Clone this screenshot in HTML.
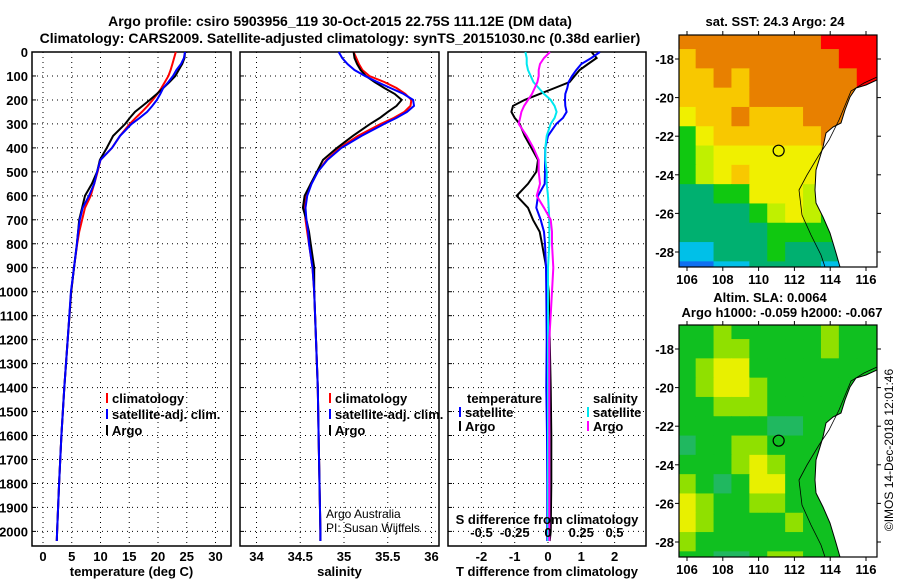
<!DOCTYPE html>
<html><head><meta charset="utf-8"><style>
body{margin:0;background:#fff;}
svg text{font-family:"Liberation Sans",Arial,sans-serif;}
.b{font-weight:bold;font-size:13px;}
.n{font-weight:normal;font-size:12px;}
</style></head><body>
<svg id="c" width="900" height="580" xmlns="http://www.w3.org/2000/svg">
<text x="340" y="26" class="b" text-anchor="middle" style="font-size:14px">Argo profile: csiro 5903956_119 30-Oct-2015 22.75S 111.12E (DM data)</text>
<text x="340" y="43" class="b" text-anchor="middle" style="font-size:14px">Climatology: CARS2009. Satellite-adjusted climatology: synTS_20151030.nc (0.38d earlier)</text>
<g id="g"></g>
</svg>
<script>
const depths=[0,25,50,75,100,125,150,175,200,225,250,275,300,350,400,450,500,550,600,650,700,750,800,900,1000,1200,1400,1600,1800,2000,2040];
const tArgo=[24.7,24.6,24.2,23.6,23.0,22.0,20.9,19.8,18.6,17.3,16.0,15.1,14.3,12.2,11.1,9.9,9.4,8.5,7.3,6.8,6.3,6.1,5.9,5.4,4.9,4.3,3.7,3.2,2.8,2.45,2.4];
const tClim=[23.1,22.8,22.5,22.2,21.8,21.2,20.6,19.9,19.1,18.2,17.2,16.1,15.1,13.4,12.0,10.0,9.5,8.9,8.3,7.3,6.8,6.3,5.95,5.4,4.9,4.3,3.7,3.2,2.8,2.45,2.4];
const tSat=[24.7,24.5,24.0,23.2,22.6,21.8,20.9,20.4,19.8,19.0,18.1,16.8,15.4,13.4,12.0,10.0,9.4,8.9,8.0,6.9,6.4,6.1,5.9,5.4,4.85,4.3,3.7,3.2,2.8,2.45,2.4];
const sArgo=[35.11,35.12,35.15,35.19,35.25,35.35,35.46,35.58,35.66,35.6,35.5,35.41,35.3,35.1,34.92,34.76,34.69,34.62,34.55,34.53,34.57,34.6,34.62,34.66,34.66,34.68,34.7,34.71,34.72,34.73,34.73];
const sClim=[35.11,35.14,35.17,35.21,35.29,35.46,35.6,35.7,35.77,35.76,35.69,35.57,35.42,35.16,34.95,34.8,34.7,34.62,34.57,34.55,34.56,34.58,34.6,34.64,34.66,34.68,34.7,34.71,34.72,34.73,34.73];
const sSat=[34.94,34.98,35.04,35.12,35.24,35.38,35.53,35.68,35.79,35.8,35.72,35.6,35.46,35.2,34.97,34.81,34.7,34.63,34.58,34.56,34.57,34.59,34.6,34.64,34.66,34.68,34.7,34.71,34.72,34.73,34.73];
const dtArgo=[1.31,1.46,1.2,0.95,0.8,0.65,0.2,-0.25,-0.7,-1.05,-1.1,-1.0,-0.85,-0.7,-0.5,-0.3,-0.35,-0.6,-0.94,-0.6,-0.45,-0.25,-0.18,-0.05,0.02,0.05,0.08,0.1,0.1,0.08,0.05];
const dtSat=[1.56,1.3,1.0,0.85,0.72,0.62,0.58,0.52,0.51,0.52,0.56,0.45,0.25,0.0,-0.08,-0.09,-0.09,-0.1,-0.3,-0.35,-0.22,-0.12,-0.09,-0.06,-0.05,-0.04,-0.05,-0.03,-0.02,-0.02,-0.02];
const dsSat=[-0.17,-0.16,-0.16,-0.15,-0.13,-0.11,-0.07,-0.03,0.02,0.05,0.065,0.05,0.02,-0.01,-0.02,-0.02,-0.01,-0.01,0.0,0.005,0.01,0.01,0.01,0.0,0.0,0.0,0.0,0.0,0.0,0.0,0.0];
const dsArgo=[0.015,-0.03,-0.06,-0.07,-0.07,-0.08,-0.1,-0.12,-0.15,-0.18,-0.2,-0.21,-0.22,-0.16,-0.11,-0.07,-0.07,-0.06,-0.085,-0.03,0.02,0.03,0.03,0.04,0.03,0.01,0.01,0.01,0.01,0.01,0.01];
const depthTicks=[0,100,200,300,400,500,600,700,800,900,1000,1100,1200,1300,1400,1500,1600,1700,1800,1900,2000];
const tTicks=[0,5,10,15,20,25,30];
const sTicks=[34,34.5,35,35.5,36];
const dtTicks=[-2,-1,0,1,2];
const dsTicks=[-0.5,-0.25,0,0.25,0.5];
const dsTickLabels=["-0.5","-0.25","0","0.25","0.5"];
const lonTicks=[106,108,110,112,114,116];
const latTicks=[18,20,22,24,26,28];
const sstGrid=[
[8,8,8,8,8,8,8,8,9,9,9,9],
[7,8,8,8,8,8,8,8,8,9,9,9],
[7,7,8,7,8,8,8,8,8,8,9,9],
[7,7,7,7,8,8,8,8,8,8,9,9],
[6,7,7,8,7,7,7,8,8,8,8,8],
[4,6,7,7,7,7,7,7,8,8,8,8],
[4,5,6,6,6,6,6,6,7,7,7,7],
[4,5,6,7,6,6,6,6,5,4,4,4],
[3,3,4,4,6,6,6,5,4,4,4,4],
[3,3,3,3,4,5,6,5,4,4,4,4],
[3,3,3,3,3,4,4,4,4,4,4,4],
[2,2,3,3,3,4,3,3,3,3,3,3],
[1,1,2,2,3,3,3,3,2,2,2,2],
[0,1,2,2,2,3,3,3,2,2,2,2]];
const slaGrid=[
[4,4,5,4,4,4,4,4,5,4,4,4],
[4,4,5,5,4,4,4,4,5,4,4,4],
[4,5,6,6,4,4,4,4,4,4,4,4],
[4,5,6,6,5,4,4,4,4,4,4,4],
[4,4,5,5,5,4,4,4,4,4,4,4],
[4,4,4,4,4,3,3,4,4,4,4,4],
[3,4,4,5,5,4,4,4,4,4,4,4],
[4,4,4,5,6,5,4,4,4,4,4,4],
[5,4,3,4,6,6,4,4,4,4,4,4],
[6,5,4,4,5,5,4,4,4,4,4,4],
[6,5,4,4,4,4,5,4,4,4,4,4],
[5,4,4,4,4,4,4,4,4,4,4,4],
[4,4,3,3,4,5,5,4,4,4,4,4],
[4,4,4,3,5,5,5,4,4,4,4,4]];
const sstColors=["#0030c0","#1070f0","#00c0e8","#00b070","#10c810","#c0f000","#f0f000","#f8c800","#e88000","#ff0000"];
const slaColors=["#0030c0","#1070f0","#00c0a0","#20b860","#10c020","#90e000","#e8f000","#f8c800"];

const NS="http://www.w3.org/2000/svg";
const G=document.getElementById('g');
function mk(t,a,p){const e=document.createElementNS(NS,t);for(const k in a)e.setAttribute(k,a[k]);(p||G).appendChild(e);return e;}
function txt(x,y,s,anchor,cls,p){const e=mk('text',{x:x,y:y,'text-anchor':anchor||'middle','class':cls||'b'},p);e.textContent=s;return e;}
const yD=d=>52+d*0.2397;
const panels=[
 {x0:32,x1:231,xs:v=>43+v*5.75,ticks:tTicks,lab:'temperature (deg C)',name:'temperature'},
 {x0:240,x1:439,xs:v=>256.5+(v-34)*87.5,ticks:sTicks,lab:'salinity',name:'salinity'},
 {x0:448,x1:646,xs:v=>548+v*33.3,ticks:dtTicks,lab:'T difference from climatology',name:'difference'}];
const xsS=v=>548+v*133;
panels.forEach((P,pi)=>{
 const pg=mk('g',{});
 
 
 depthTicks.forEach(d=>{const l=mk('line',{x1:P.x0,x2:P.x1,y1:yD(d),y2:yD(d),stroke:'#000','stroke-dasharray':'1,4'},pg);
  
  mk('line',{x1:P.x0,x2:P.x0+4,y1:yD(d),y2:yD(d),stroke:'#000'},pg);
  if(pi==0){const t=txt(28,yD(d)+5,String(d),'end','b',pg);}});
 P.ticks.forEach((v,i)=>{mk('line',{x1:P.xs(v),x2:P.xs(v),y1:52,y2:546,stroke:'#000','stroke-dasharray':'1,4'},pg);
  const t=txt(P.xs(v),561,String(v),'middle','b',pg);});
 mk('rect',{x:P.x0,y:52,width:P.x1-P.x0,height:494,fill:'none',stroke:'#000','stroke-width':1.5},pg);
 const xl=txt((P.x0+P.x1)/2,576,P.lab,'middle','b',pg);
});
function prof(vals,xs,col,name){const pts=vals.map((v,i)=>xs(v).toFixed(1)+','+yD(depths[i]).toFixed(1)).join(' ');
 const e=mk('polyline',{points:pts,fill:'none',stroke:col,'stroke-width':2});
 
 }
const P0=panels[0].xs,P1=panels[1].xs,P2=panels[2].xs;
prof(tClim,P0,'#f00','temperature-climatology-line');prof(tArgo,P0,'#000','temperature-argo-line');prof(tSat,P0,'#00f','temperature-satellite-line');
prof(sClim,P1,'#f00','salinity-climatology-line');prof(sArgo,P1,'#000','salinity-argo-line');prof(sSat,P1,'#00f','salinity-satellite-line');
prof(dtArgo,P2,'#000','t-diff-argo-line');prof(dtSat,P2,'#00f','t-diff-satellite-line');prof(dsSat,xsS,'#00e8f0','s-diff-satellite-line');prof(dsArgo,xsS,'#f0f','s-diff-argo-line');
const st=txt(547,524,'S difference from climatology');
dsTicks.forEach((v,i)=>{const t=txt(xsS(v),537,dsTickLabels[i]);});
function leg(x,y,col,s,name){mk('line',{x1:x,x2:x,y1:y-10,y2:y,stroke:col,'stroke-width':2});const t=txt(x+5,y,s,'start');
 }
leg(107,403,'#f00','climatology','legend-climatology');leg(107,419,'#00f','satellite-adj. clim.','legend-satellite');leg(107,435,'#000','Argo','legend-argo');
leg(330,403,'#f00','climatology','legend-climatology-2');leg(330,419,'#00f','satellite-adj. clim.','legend-satellite-2');leg(330,435,'#000','Argo','legend-argo-2');
txt(467,403,'temperature','start');leg(460,417,'#00f','satellite','legend-t-satellite');leg(460,431,'#000','Argo','legend-t-argo');
txt(593,403,'salinity','start');leg(588,417,'#00e8f0','satellite','legend-s-satellite');leg(588,431,'#f0f','Argo','legend-s-argo');
txt(326,518,'Argo Australia','start','n');
txt(326,532,'PI: Susan Wijffels','start','n');
const lonX=l=>687+(l-106)*17.9;
const coast=[[198,45],[187,50],[177,53],[171,62],[166,75],[162,88],[154,92],[147,98],[144,112],[141,122],[137,135],[136,155],[137,168],[144,182],[151,198],[157,218],[161,232]];
const shelf=[[198,42],[185,48],[172,56],[160,85],[150,105],[140,120],[128,140],[120,155],[123,180],[132,200],[142,220],[146,232]];
function map(y0,grid,cols,name,circleS){
 const mg=mk('g',{});
 const latY=s=>y0+24+(s-18)*19.3;
 const cid='clip'+y0;const cp=mk('clipPath',{id:cid},mg);mk('rect',{x:679,y:y0,width:198,height:232},cp);
 const cg=mk('g',{'clip-path':'url(#'+cid+')'},mg);
 grid.forEach((row,r)=>row.forEach((v,c)=>{const e=mk('rect',{x:lonX(105.5+c)-0.3,y:latY(16.5+r)-0.3,width:18.5,height:19.9,fill:cols[v]},cg);
  }));
 const pts=coast.map(p=>(679+p[0])+','+(y0+p[1])).join(' ');
 mk('polygon',{points:pts+' 877,'+(y0+232)+' 877,'+(y0+45),fill:'#fff'},cg);
 mk('polyline',{points:pts,fill:'none',stroke:'#000','stroke-width':1},cg);
 mk('polyline',{points:shelf.map(p=>(679+p[0])+','+(y0+p[1])).join(' '),fill:'none',stroke:'#000','stroke-width':0.8},cg);
 const ci=mk('circle',{cx:lonX(111.12),cy:latY(circleS),r:5.5,fill:'none',stroke:'#000','stroke-width':1.2},mg);
 
 mk('rect',{x:679,y:y0,width:198,height:232,fill:'none',stroke:'#000','stroke-width':1.2},mg);
 lonTicks.forEach(l=>{mk('line',{x1:lonX(l),x2:lonX(l),y1:y0-4,y2:y0,stroke:'#000'},mg);mk('line',{x1:lonX(l),x2:lonX(l),y1:y0+232,y2:y0+236,stroke:'#000'},mg);
  const t=txt(lonX(l),y0+249,String(l),'middle','b',mg);});
 latTicks.forEach(s=>{mk('line',{x1:675,x2:679,y1:latY(s),y2:latY(s),stroke:'#000'},mg);mk('line',{x1:877,x2:881,y1:latY(s),y2:latY(s),stroke:'#000'},mg);
  const t=txt(674,latY(s)+5,'-'+s,'end','b',mg);});
}
map(35,sstGrid,sstColors,'sst-map',22.75);
map(325,slaGrid,slaColors,'sla-map',22.75);
txt(775,26,'sat. SST: 24.3  Argo: 24');
txt(770,302,'Altim. SLA: 0.0064');
txt(782,317,'Argo h1000: -0.059 h2000: -0.067');
const cr=txt(0,0,'©IMOS 14-Dec-2018 12:01:46','middle','n');cr.setAttribute('transform','translate(893,450) rotate(-90)');

</script>
</body></html>
